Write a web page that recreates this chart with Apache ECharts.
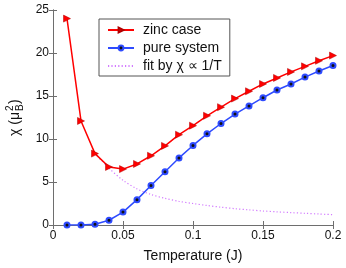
<!DOCTYPE html>
<html>
<head>
<meta charset="utf-8">
<script src="https://cdn.jsdelivr.net/npm/echarts@6/dist/echarts.min.js"></script>
<style>html,body{margin:0;padding:0;background:#fff}#c{width:346px;height:268px}</style>
</head>
<body>
<div id="c"></div>
<script>
var temps = [0.01,0.02,0.03,0.04,0.05,0.06,0.07,0.08,0.09,0.10,0.11,0.12,0.13,0.14,0.15,0.16,0.17,0.18,0.19,0.20];
var zincCase = [24.0,12.1,8.3,6.75,6.5,7.1,8.05,9.2,10.5,11.55,12.7,13.7,14.7,15.55,16.4,17.1,17.8,18.45,19.1,19.7];
var pureSystem = [0.0,0.0,0.08,0.55,1.5,2.95,4.6,6.2,7.8,9.25,10.6,11.8,12.9,13.85,14.8,15.7,16.4,17.2,17.9,18.55];
var fitTemps = [0.03,0.04,0.05,0.06,0.07,0.08,0.09,0.10,0.11,0.12,0.13,0.14,0.15,0.16,0.17,0.18,0.19,0.20];
var fitValues = [8.3,6.6,5.2,4.2,3.55,3.1,2.75,2.5,2.27,2.07,1.9,1.76,1.63,1.53,1.44,1.36,1.28,1.2];
var xTicks = [0,0.05,0.1,0.15,0.2];
var yTicks = [0,5,10,15,20,25];
var seriesNames = ['zinc case','pure system','fit by \u03c7 \u221d 1/T'];

function pairs(xs, ys){ return xs.map(function(x,i){return [x, ys[i]];}); }

var FONT = '"Liberation Sans", Arial, sans-serif';
var axisCol = '#6e6e6e';
var chart = echarts.init(document.getElementById('c'), null, {renderer:'canvas'});
var baseAxis = {
  axisLine:{show:true,lineStyle:{color:axisCol,width:1}},
  axisTick:{show:true,inside:true,length:4,lineStyle:{color:axisCol}},
  splitLine:{show:false},
  axisLabel:{color:'#111',fontFamily:FONT,fontSize:12}
};
chart.setOption({
  animation:false,
  backgroundColor:'#fff',
  grid:{left:53,right:13,top:10,bottom:40,containLabel:false},
  xAxis:[
    Object.assign({}, baseAxis, {type:'value',min:xTicks[0],max:xTicks[xTicks.length-1],interval:0.05,position:'bottom',
      axisLabel:{color:'#111',fontFamily:FONT,fontSize:12,margin:5,
        formatter:function(v){return String(+v.toFixed(2));}},
      name:'Temperature (J)',nameLocation:'middle',nameGap:24,
      nameTextStyle:{color:'#111',fontFamily:FONT,fontSize:14}}),
    Object.assign({}, baseAxis, {type:'value',min:0,max:0.2,interval:0.05,position:'top',axisLabel:{show:false}})
  ],
  yAxis:[
    Object.assign({}, baseAxis, {type:'value',min:yTicks[0],max:yTicks[yTicks.length-1],interval:5,position:'left',
      axisLabel:{color:'#111',fontFamily:FONT,fontSize:12,margin:4}}),
    Object.assign({}, baseAxis, {type:'value',min:0,max:25,interval:5,position:'right',axisLabel:{show:false}})
  ],
  legend:{
    orient:'vertical',left:99,top:19,
    data:[
      {name:seriesNames[0]},
      {name:seriesNames[1]},
      {name:seriesNames[2],itemStyle:{opacity:0}}
    ],
    backgroundColor:'#fff',borderColor:'#555',borderWidth:1,
    padding:[4,8,3,8],itemGap:4,itemWidth:26,itemHeight:6,
    textStyle:{fontFamily:FONT,fontSize:14,color:'#111',lineHeight:14,padding:[0,0,0,4]},
    selectedMode:false
  },
  graphic:[{
    type:'group',x:15,y:112,rotation:Math.PI/2,
    children:[
      {type:'text',x:-24,y:0,style:{text:'\u03c7 (\u03bc',font:'14px '+FONT,fill:'#111',textAlign:'left',textVerticalAlign:'middle'}},
      {type:'text',x:1,y:-5,style:{text:'2',font:'10px '+FONT,fill:'#111',textAlign:'left',textVerticalAlign:'middle'}},
      {type:'text',x:1,y:5,style:{text:'B',font:'10px '+FONT,fill:'#111',textAlign:'left',textVerticalAlign:'middle'}},
      {type:'text',x:8,y:0,style:{text:')',font:'14px '+FONT,fill:'#111',textAlign:'left',textVerticalAlign:'middle'}}
    ]
  }],
  series:[
    {name:seriesNames[0],type:'line',data:pairs(temps,zincCase),
      lineStyle:{color:'#ff0000',width:1.5},itemStyle:{color:'#ff0000',borderColor:'#b00000',borderWidth:0.5},
      symbol:'triangle',symbolSize:7,symbolRotate:-90,showAllSymbol:true,z:3},
    {name:seriesNames[1],type:'line',data:pairs(temps,pureSystem),
      lineStyle:{color:'#2e4bff',width:1.5},itemStyle:{color:'#111',borderColor:'#2e4bff',borderWidth:2},
      symbol:'circle',symbolSize:5,showAllSymbol:true,z:3},
    {name:seriesNames[2],type:'line',data:pairs(fitTemps,fitValues),smooth:0.3,
      lineStyle:{color:'#d27bff',width:1.2,type:[1.2,2.2]},itemStyle:{color:'#d27bff'},
      symbol:'none',z:2}
  ]
});
</script>
</body>
</html>
